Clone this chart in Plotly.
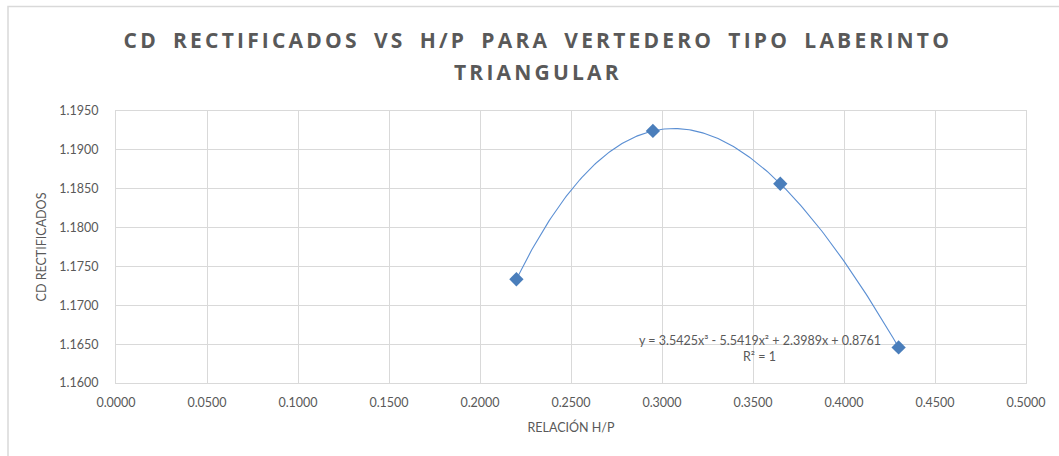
import numpy as np
import plotly.graph_objects as go

# Measured data: H/P ratio vs rectified discharge coefficient
relacion_hp = [0.2200, 0.2950, 0.3650, 0.4300]
cd_rectificados = [1.17335, 1.19244, 1.18564, 1.16458]

# Cubic trendline coefficients (highest power first)
trend_coefs = [3.5425, -5.5419, 2.3989, 0.8761]

x_ticks = [0.0, 0.05, 0.10, 0.15, 0.20, 0.25, 0.30, 0.35, 0.40, 0.45, 0.50]
y_ticks = [1.160, 1.165, 1.170, 1.175, 1.180, 1.185, 1.190, 1.195]

W, H = 1059, 456
L, R, T, B = 116, 33, 111, 73
pw, ph = W - L - R, H - T - B

def px_x(p):
    return (p - L) / pw

def px_y(p):
    return (H - B - p) / ph

GRID = "#d9d9d9"
TXT = "#595959"
FONT = "Lato"

xs = np.linspace(min(relacion_hp), max(relacion_hp), 200)
ys = np.polyval(trend_coefs, xs)

fig = go.Figure()
fig.add_trace(go.Scatter(
    x=xs, y=ys, mode="lines",
    line=dict(color="#5b8fd3", width=1.1),
    hoverinfo="skip", showlegend=False,
))
fig.add_trace(go.Scatter(
    x=relacion_hp, y=cd_rectificados, mode="markers",
    marker=dict(symbol="diamond", size=11, color="#4a7ebb"),
    showlegend=False,
))

# Title (two centred lines)
title_lines = ["CD RECTIFICADOS VS H/P PARA VERTEDERO TIPO LABERINTO", "TRIANGULAR"]
for i, line in enumerate(title_lines):
    fig.add_annotation(
        xref="paper", yref="paper", x=px_x(538), y=px_y(40 + 32 * i),
        text="<b>" + line + "</b>", showarrow=False,
        xanchor="center", yanchor="middle",
        font=dict(family="Open Sans", size=21, color=TXT),
        name="chart-title",
    )

# Trendline equation and R²
fig.add_annotation(
    xref="paper", yref="paper", x=px_x(760), y=px_y(340),
    text="y = 3.5425x³ - 5.5419x² + 2.3989x + 0.8761", showarrow=False,
    xanchor="center", yanchor="middle",
    font=dict(family=FONT, size=12.5, color=TXT),
)
fig.add_annotation(
    xref="paper", yref="paper", x=px_x(759), y=px_y(356),
    text="R² = 1", showarrow=False,
    xanchor="center", yanchor="middle",
    font=dict(family=FONT, size=12.5, color=TXT),
)

# Chart frame
fig.add_shape(type="rect", xref="paper", yref="paper",
              x0=px_x(8), x1=px_x(1070), y0=px_y(470), y1=px_y(6.5),
              line=dict(color=GRID, width=1.5), fillcolor="rgba(0,0,0,0)", layer="below")

fig.update_layout(
    width=W, height=H,
    margin=dict(l=L, r=R, t=T, b=B, pad=0),
    paper_bgcolor="white", plot_bgcolor="white",
    font=dict(family=FONT, size=12.5, color=TXT),
    xaxis=dict(
        range=[0, 0.5], tickvals=x_ticks, tickformat=".4f",
        showgrid=True, gridcolor=GRID, gridwidth=1,
        showline=True, linecolor=GRID, linewidth=1, mirror=True,
        zeroline=False, ticks="", ticklabelstandoff=8,
        title=dict(text="RELACIÓN H/P", font=dict(family=FONT, size=12.5, color=TXT), standoff=14),
        tickfont=dict(family=FONT, size=12.5, color=TXT),
    ),
    yaxis=dict(
        range=[1.16, 1.195], tickvals=y_ticks, tickformat=".4f",
        showgrid=True, gridcolor=GRID, gridwidth=1,
        showline=True, linecolor=GRID, linewidth=1, mirror=True,
        zeroline=False, ticks="", ticklabelstandoff=14,
        title=dict(text="CD RECTIFICADOS", font=dict(family=FONT, size=12.5, color=TXT), standoff=9),
        tickfont=dict(family=FONT, size=12.5, color=TXT),
    ),
)

# Spread out the title letters (tracking) once the chart is drawn
tracking_js = """
var gd = document.getElementById('{plot_id}');
gd.querySelectorAll('.annotation-text').forEach(function (t) {
    var s = t.textContent;
    if (s.indexOf('RECTIFICADOS') >= 0 || s === 'TRIANGULAR') {
        t.style.letterSpacing = '3.2px';
        t.style.wordSpacing = '5.5px';
    }
});
"""

fig.write_html("out.html", post_script=tracking_js)
